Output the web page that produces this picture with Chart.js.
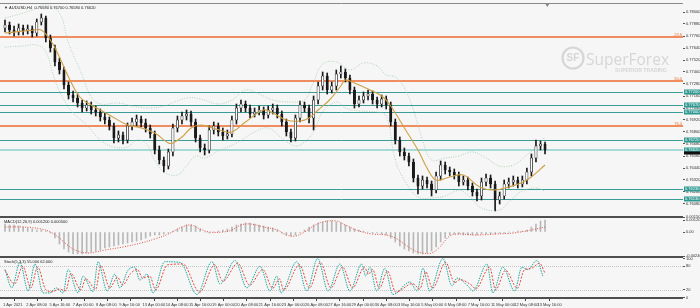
<!DOCTYPE html>
<html>
<head>
<meta charset="utf-8">
<script src="https://cdn.jsdelivr.net/npm/chart.js@4.4.1/dist/chart.umd.min.js"></script>
<style>
  html, body { margin: 0; padding: 0; background: #f6f6f6; }
  canvas { display: block; }
</style>
</head>
<body>
<canvas id="chart" width="700" height="308"></canvas>
<script>
// ---- AUDUSD H4 candles ----
const openP = [0.7784, 0.7787, 0.7782, 0.7780, 0.7784, 0.7781, 0.7783, 0.7779, 0.7790, 0.7794,
  0.7774, 0.7764, 0.7750, 0.7742, 0.7727, 0.7717, 0.7714, 0.7709, 0.7704, 0.7707,
  0.7702, 0.7700, 0.7695, 0.7692, 0.7686, 0.7674, 0.7677, 0.7672, 0.7686, 0.7690,
  0.7693, 0.7689, 0.7684, 0.7678, 0.7662, 0.7652, 0.7646, 0.7660, 0.7684, 0.7692,
  0.7696, 0.7698, 0.7690, 0.7674, 0.7664, 0.7662, 0.7682, 0.7686, 0.7680, 0.7676,
  0.7678, 0.7692, 0.7704, 0.7708, 0.7704, 0.7698, 0.7700, 0.7702, 0.7697, 0.7702,
  0.7704, 0.7698, 0.7690, 0.7680, 0.7674, 0.7694, 0.7707, 0.7704, 0.7694, 0.7712,
  0.7726, 0.7736, 0.7722, 0.7726, 0.7738, 0.7740, 0.7734, 0.7722, 0.7708, 0.7712,
  0.7716, 0.7718, 0.7712, 0.7708, 0.7713, 0.7707, 0.7690, 0.7672, 0.7660, 0.7656,
  0.7650, 0.7634, 0.7626, 0.7632, 0.7628, 0.7622, 0.7636, 0.7647, 0.7642, 0.7640,
  0.7637, 0.7630, 0.7632, 0.7626, 0.7620, 0.7616, 0.7630, 0.7634, 0.7628, 0.7612,
  0.7616, 0.7628, 0.7630, 0.7632, 0.7628, 0.7632, 0.7640, 0.7654, 0.7666, 0.7668];
const highP = [0.7792, 0.7790, 0.7786, 0.7788, 0.7787, 0.7787, 0.7786, 0.7793, 0.7798, 0.7796,
  0.7777, 0.7767, 0.7754, 0.7745, 0.7730, 0.7721, 0.7718, 0.7712, 0.7711, 0.7710,
  0.7706, 0.7703, 0.7699, 0.7695, 0.7689, 0.7681, 0.7680, 0.7689, 0.7694, 0.7697,
  0.7696, 0.7693, 0.7687, 0.7681, 0.7666, 0.7655, 0.7663, 0.7688, 0.7696, 0.7700,
  0.7702, 0.7701, 0.7693, 0.7677, 0.7668, 0.7686, 0.7690, 0.7689, 0.7684, 0.7682,
  0.7696, 0.7708, 0.7712, 0.7711, 0.7707, 0.7704, 0.7706, 0.7705, 0.7706, 0.7708,
  0.7707, 0.7701, 0.7693, 0.7683, 0.7697, 0.7711, 0.7710, 0.7707, 0.7716, 0.7730,
  0.7740, 0.7739, 0.7730, 0.7742, 0.7746, 0.7743, 0.7737, 0.7725, 0.7716, 0.7720,
  0.7722, 0.7721, 0.7715, 0.7717, 0.7716, 0.7710, 0.7693, 0.7675, 0.7664, 0.7659,
  0.7653, 0.7637, 0.7636, 0.7635, 0.7631, 0.7640, 0.7651, 0.7650, 0.7645, 0.7643,
  0.7640, 0.7636, 0.7635, 0.7629, 0.7623, 0.7634, 0.7638, 0.7637, 0.7631, 0.7620,
  0.7632, 0.7634, 0.7636, 0.7635, 0.7636, 0.7644, 0.7658, 0.7672, 0.7671, 0.7670];
const lowP = [0.7780, 0.7778, 0.7776, 0.7777, 0.7777, 0.7778, 0.7775, 0.7776, 0.7787, 0.7770,
  0.7760, 0.7746, 0.7738, 0.7723, 0.7713, 0.7710, 0.7705, 0.7700, 0.7701, 0.7698,
  0.7696, 0.7691, 0.7688, 0.7682, 0.7669, 0.7670, 0.7668, 0.7669, 0.7682, 0.7686,
  0.7685, 0.7680, 0.7674, 0.7658, 0.7648, 0.7640, 0.7643, 0.7656, 0.7680, 0.7688,
  0.7692, 0.7686, 0.7670, 0.7660, 0.7657, 0.7659, 0.7678, 0.7676, 0.7672, 0.7673,
  0.7675, 0.7688, 0.7700, 0.7700, 0.7694, 0.7695, 0.7697, 0.7693, 0.7694, 0.7698,
  0.7694, 0.7686, 0.7676, 0.7670, 0.7671, 0.7690, 0.7700, 0.7689, 0.7682, 0.7708,
  0.7722, 0.7718, 0.7719, 0.7722, 0.7734, 0.7730, 0.7718, 0.7704, 0.7705, 0.7709,
  0.7712, 0.7708, 0.7704, 0.7705, 0.7703, 0.7686, 0.7668, 0.7656, 0.7652, 0.7646,
  0.7630, 0.7618, 0.7623, 0.7624, 0.7616, 0.7619, 0.7632, 0.7638, 0.7636, 0.7633,
  0.7626, 0.7627, 0.7622, 0.7616, 0.7611, 0.7612, 0.7626, 0.7624, 0.7601, 0.7608,
  0.7613, 0.7624, 0.7626, 0.7624, 0.7625, 0.7628, 0.7636, 0.7650, 0.7662, 0.7658];
const closeP = [0.7787, 0.7782, 0.7780, 0.7784, 0.7781, 0.7783, 0.7779, 0.7790, 0.7794, 0.7774,
  0.7764, 0.7750, 0.7742, 0.7727, 0.7717, 0.7714, 0.7709, 0.7704, 0.7707, 0.7702,
  0.7700, 0.7695, 0.7692, 0.7686, 0.7674, 0.7677, 0.7672, 0.7686, 0.7690, 0.7693,
  0.7689, 0.7684, 0.7678, 0.7662, 0.7652, 0.7646, 0.7660, 0.7684, 0.7692, 0.7696,
  0.7698, 0.7690, 0.7674, 0.7664, 0.7662, 0.7682, 0.7686, 0.7680, 0.7676, 0.7678,
  0.7692, 0.7704, 0.7708, 0.7704, 0.7698, 0.7700, 0.7702, 0.7697, 0.7702, 0.7704,
  0.7698, 0.7690, 0.7680, 0.7674, 0.7694, 0.7707, 0.7704, 0.7694, 0.7712, 0.7726,
  0.7736, 0.7722, 0.7726, 0.7738, 0.7740, 0.7734, 0.7722, 0.7708, 0.7712, 0.7716,
  0.7718, 0.7712, 0.7708, 0.7713, 0.7707, 0.7690, 0.7672, 0.7660, 0.7656, 0.7650,
  0.7634, 0.7626, 0.7632, 0.7628, 0.7622, 0.7636, 0.7647, 0.7642, 0.7640, 0.7637,
  0.7630, 0.7632, 0.7626, 0.7620, 0.7616, 0.7630, 0.7634, 0.7628, 0.7612, 0.7616,
  0.7628, 0.7630, 0.7632, 0.7628, 0.7632, 0.7640, 0.7654, 0.7666, 0.7668, 0.7662];

// moving average (bar index, price)
const maX = [0, 6.6, 8, 10, 12, 14, 16.5, 19, 21, 23, 27, 30, 33, 36, 37, 39, 41, 43, 45, 48,
  50, 53, 57, 59, 62, 65, 67, 69, 71.5, 74, 75, 77, 80, 83, 85, 88, 91, 93, 95, 98,
  101, 104.6, 107.5, 111, 115, 119];
const maV = [0.7779, 0.7782, 0.7782, 0.7772, 0.7755, 0.7735, 0.7715, 0.7707, 0.7702, 0.7697,
  0.7687, 0.7684, 0.7679, 0.7669, 0.7669, 0.7675, 0.7684, 0.7687, 0.7685, 0.7681,
  0.7680, 0.7690, 0.7702, 0.7699, 0.7692, 0.7691, 0.7694, 0.7702, 0.7712, 0.7726,
  0.7732, 0.7729, 0.7723, 0.7716, 0.7706, 0.7684, 0.7662, 0.7644, 0.7632, 0.7635,
  0.7637, 0.7625, 0.7622, 0.7625, 0.7632, 0.7647];

// Bollinger bands
const ubX = [0, 3.3, 6, 9, 12, 14, 17, 19, 21, 25, 28, 32, 35, 40, 43, 47, 50, 53, 56, 59,
  63, 66, 68, 70, 73, 76, 79, 82, 84, 86, 88, 90, 92, 94, 97, 100, 103, 106, 109, 112,
  115, 117, 119];
const ubV = [0.7794, 0.7798, 0.7802, 0.7807, 0.7799, 0.7769, 0.7737, 0.7715, 0.7708, 0.7709,
  0.7706, 0.7704, 0.7706, 0.7714, 0.7713, 0.7708, 0.7712, 0.7722, 0.7718, 0.7712,
  0.7710, 0.7712, 0.7730, 0.7748, 0.7750, 0.7742, 0.7749, 0.7746, 0.7737, 0.7735,
  0.7724, 0.7702, 0.7672, 0.7652, 0.7654, 0.7656, 0.7660, 0.7654, 0.7646, 0.7647,
  0.7657, 0.7665, 0.7675];
const lbX = [0, 4, 7, 9, 11, 13, 15, 18, 21, 24, 27, 29, 31, 33, 35, 38, 40, 42, 44, 47,
  51, 55, 58, 61, 64, 66, 68, 70, 73, 75, 78, 82, 84, 86, 88, 91, 94, 97, 100, 102,
  105, 109, 111, 114, 117, 119];
const lbV = [0.7765, 0.7766, 0.7767, 0.7760, 0.7732, 0.7712, 0.7699, 0.7687, 0.7672, 0.7665,
  0.7665, 0.7672, 0.7669, 0.7652, 0.7640, 0.7637, 0.7646, 0.7656, 0.7654, 0.7661,
  0.7669, 0.7680, 0.7684, 0.7674, 0.7666, 0.7670, 0.7680, 0.7700, 0.7710, 0.7704,
  0.7701, 0.7700, 0.7696, 0.7652, 0.7632, 0.7615, 0.7614, 0.7616, 0.7622, 0.7617,
  0.7604, 0.7602, 0.7610, 0.7621, 0.7624, 0.7621];

// horizontal levels
const fibLevels = [0.7775, 0.7731, 0.7686];
const fibNames = ['23.6', '50.0', '76.4'];
const supportLevels = [0.7720, 0.7707, 0.7700, 0.7672, 0.7623, 0.7613];
const bidPrice = 0.7662;

// MACD(12,26,9)
const macdHist = [0.0008, 0.0007, 0.0007, 0.0006, 0.0005, 0.0004, 0.0003, 0.0002, 0.0002, 0.0001,
  -0.0001, -0.0006, -0.0012, -0.0017, -0.0020, -0.0022, -0.0022, -0.0022, -0.0021, -0.0020,
  -0.0019, -0.0018, -0.0016, -0.0015, -0.0014, -0.0013, -0.0012, -0.0011, -0.0010, -0.0009,
  -0.0008, -0.0006, -0.0004, -0.0003, -0.0003, -0.0002, -0.0001, 0.0001, 0.0003, 0.0005,
  0.0007, 0.0007, 0.0006, 0.0003, 0.0000, -0.0001, 0.0000, 0.0001, 0.0002, 0.0003,
  0.0005, 0.0007, 0.0008, 0.0009, 0.0009, 0.0008, 0.0007, 0.0006, 0.0005, 0.0004,
  0.0002, -0.0001, -0.0003, -0.0004, -0.0003, -0.0001, 0.0002, 0.0005, 0.0007, 0.0009,
  0.0010, 0.0011, 0.0011, 0.0010, 0.0009, 0.0007, 0.0005, 0.0003, 0.0002, 0.0001,
  0.0000, -0.0001, -0.0001, -0.0002, -0.0003, -0.0006, -0.0010, -0.0014, -0.0017, -0.0019,
  -0.0021, -0.0022, -0.0022, -0.0021, -0.0019, -0.0015, -0.0010, -0.0006, -0.0003, -0.0002,
  -0.0002, -0.0003, -0.0003, -0.0003, -0.0003, -0.0002, -0.0002, -0.0002, -0.0002, -0.0001,
  -0.0001, 0.0000, 0.0000, 0.0001, 0.0001, 0.0002, 0.0005, 0.0008, 0.0011, 0.0012];
const sigX = [0, 4, 8, 10, 12, 14, 16, 18, 20, 22, 26, 30, 33, 36, 39, 41, 43, 45, 48, 50,
  52, 54, 57, 60, 62, 64, 66, 68, 70, 73, 75, 78, 81, 84, 86, 88, 90, 92, 94, 96,
  98, 100, 104, 108, 112, 116, 119];
const sigV = [0.0005, 0.0005, 0.0003, 0.0000, -0.0006, -0.0014, -0.0019, -0.0021, -0.0020, -0.0018,
  -0.0015, -0.0011, -0.0007, -0.0002, 0.0005, 0.0007, 0.0003, 0.0000, 0.0000, 0.0002,
  0.0007, 0.0008, 0.0005, 0.0002, -0.0003, -0.0004, 0.0000, 0.0006, 0.0010, 0.0011,
  0.0007, 0.0001, -0.0002, -0.0003, -0.0006, -0.0012, -0.0018, -0.0021, -0.0021, -0.0014,
  -0.0004, -0.0002, -0.0003, -0.0002, -0.0001, 0.0002, 0.0005];

// Stochastic(5,3,3)
const stochMainX = [0, 1.5, 3.3, 5.1, 6.6, 8.4, 9.9, 11.2, 12.8, 13.9, 16.1, 17.2, 19.4, 20.5, 22.5,
  24.2, 25.3, 27.1, 28.6, 29.7, 31.3, 32.6, 35.2, 38.6, 42.3, 45.6, 47.4, 50.7, 53.3, 56.2,
  58.4, 59.9, 60.8, 64.3, 66.5, 68.9, 71.2, 73.8, 76.0, 78.6, 79.5, 80.4, 81.9, 83.7, 85.5,
  89.2, 90.8, 92.1, 93.6, 96.5, 98.5, 99.6, 102.4, 103.1, 106.2, 107.5, 109.7, 112.3, 113.9, 115.2,
  117.2, 118.5];
const stochMainV = [72, 25, 90, 17, 86, 12, 12, 25, 12, 72, 12, 55, 15, 92, 17,
  60, 25, 70, 78, 45, 60, 12, 92, 90, 8, 92, 35, 95, 25, 80,
  17, 55, 12, 92, 17, 100, 17, 86, 17, 86, 55, 78, 17, 75, 8,
  40, 17, 75, 17, 100, 30, 50, 25, 17, 86, 12, 78, 17, 78, 72,
  95, 55];
const stochSigX = [0, 2.1, 3.9, 5.7, 7.2, 9.0, 10.5, 11.8, 13.4, 14.5, 16.7, 17.8, 20.0, 21.1, 23.1,
  24.8, 25.9, 27.7, 29.2, 30.3, 31.9, 33.2, 35.8, 39.2, 42.9, 46.2, 48.0, 51.3, 53.9, 56.8,
  59.0, 60.5, 61.4, 64.9, 67.1, 69.5, 71.8, 74.4, 76.6, 79.2, 80.1, 81.0, 82.5, 84.3, 86.1,
  89.8, 91.4, 92.7, 94.2, 97.1, 99.1, 100.2, 103.0, 103.7, 106.8, 108.1, 110.3, 112.9, 114.5, 115.8,
  117.8, 119.0];
const stochSigV = [70, 35, 80, 25, 78, 20, 15, 22, 18, 62, 20, 48, 22, 82, 25,
  52, 32, 62, 72, 50, 55, 20, 84, 86, 14, 84, 42, 88, 32, 72,
  24, 48, 20, 84, 25, 90, 25, 78, 25, 78, 60, 72, 24, 68, 14,
  36, 22, 66, 24, 90, 38, 46, 30, 22, 78, 20, 70, 24, 72, 74,
  88, 62];
const stochLevels = [80, 20];

// axis labels
const priceTicks = [0.7800, 0.7788, 0.7776, 0.7764, 0.7752, 0.7740, 0.7728, 0.7716, 0.7704,
  0.7692, 0.7680, 0.7668, 0.7656, 0.7644, 0.7632, 0.7620, 0.7608];
const macdTicks = [0.0015, 0.0012, 0, -0.0024];
const stochTicks = [100, 80, 20, 0];
const timeLabels = ['1 Apr 2021', '2 Apr 08:00', '5 Apr 16:00', '7 Apr 00:00', '8 Apr 08:00',
  '9 Apr 16:00', '13 Apr 00:00', '14 Apr 08:00', '15 Apr 16:00', '19 Apr 00:00', '20 Apr 08:00',
  '21 Apr 16:00', '23 Apr 00:00', '26 Apr 08:00', '27 Apr 16:00', '29 Apr 00:00', '30 Apr 08:00',
  '3 May 16:00', '5 May 00:00', '6 May 08:00', '7 May 16:00', '11 May 00:00', '12 May 08:00',
  '13 May 16:00'];
const mainTitle = '\u25BC AUDUSD,H4  0.76680 0.76700 0.76580 0.76620';
const macdTitle = 'MACD(12,26,9) 0.001200 0.000500';
const stochTitle = 'Stoch(5,3,3) 55.000 62.000';

// layout helpers
const labelStart = -0.44;
const labelStep = 5.12;
const family = '"Liberation Sans", "DejaVu Sans", sans-serif';
const tiny = { size: 4, family: family };

Chart.defaults.font.family = family;

const barIdx = openP.map((_, i) => i);
const pts = (xs, ys) => xs.map((x, i) => ({ x: x, y: ys[i] }));

// Draw panel frames, level lines, labels and watermark
const paneDecor = {
    id: 'paneDecor',
    beforeDraw(chart) {
        const c = chart.ctx;
        c.save();
        c.fillStyle = '#f6f6f6';
        c.fillRect(0, 0, chart.width, chart.height);

        // watermark
        c.strokeStyle = '#d6d6d6';
        c.fillStyle = '#d6d6d6';
        c.lineWidth = 2.2;
        c.beginPath();
        c.arc(573, 58, 10.5, 0, Math.PI * 2);
        c.stroke();
        c.font = 'bold 10px ' + family;
        c.textAlign = 'center';
        c.textBaseline = 'middle';
        c.fillText('SF', 573, 58.5);
        c.textAlign = 'left';
        c.textBaseline = 'alphabetic';
        c.font = '16px "Open Sans"';
        let w = c.measureText('SuperForex').width;
        c.font = (16 * 83 / w).toFixed(1) + 'px "Open Sans"';
        c.fillText('SuperForex', 586, 65);
        c.font = 'bold 5px ' + family;
        w = c.measureText('SUPERIOR TRADING').width;
        c.font = 'bold ' + (5 * 52 / w).toFixed(2) + 'px ' + family;
        c.fillText('SUPERIOR TRADING', 615, 72);
        c.restore();
    },
    beforeDatasetsDraw(chart) {
        const c = chart.ctx;
        const area = chart.chartArea;
        const yMain = chart.scales.y;
        const yStoch = chart.scales.yStoch;
        c.save();
        const hline = (y, color, width, dash) => {
            c.strokeStyle = color;
            c.lineWidth = width;
            c.setLineDash(dash || []);
            c.beginPath();
            c.moveTo(area.left, y);
            c.lineTo(area.right, y);
            c.stroke();
        };
        supportLevels.forEach(v => hline(Math.round(yMain.getPixelForValue(v)) + 0.5, '#3a9c96', 1));
        hline(yMain.getPixelForValue(bidPrice), '#a6dad6', 2);
        fibLevels.forEach(v => hline(Math.round(yMain.getPixelForValue(v)), '#ec6a2e', 1.5));
        stochLevels.forEach(v => hline(Math.round(yStoch.getPixelForValue(v)) + 0.5, '#c4c4c4', 1, [1, 1]));
        c.restore();
    },
    afterDraw(chart) {
        const c = chart.ctx;
        const area = chart.chartArea;
        const yMain = chart.scales.y;
        const yMacd = chart.scales.yMacd;
        const yStoch = chart.scales.yStoch;
        const xs = chart.scales.x;
        c.save();
        const sep = (y, color, width) => {
            c.strokeStyle = color;
            c.lineWidth = width;
            c.beginPath();
            c.moveTo(0, y);
            c.lineTo(area.right, y);
            c.stroke();
        };
        sep(yMain.top + 0.5, '#8a8a8a', 1);
        sep(yMacd.top, '#4e4e4e', 2);
        sep(yStoch.top, '#4e4e4e', 2);
        sep(yStoch.bottom, '#4e4e4e', 2);

        // chart shift marker
        const sx = xs.getPixelForValue(barIdx.length - 0.5);
        c.fillStyle = '#8a8a8a';
        c.beginPath();
        c.moveTo(sx - 2, yMain.top + 1);
        c.lineTo(sx + 2, yMain.top + 1);
        c.lineTo(sx, yMain.top + 4);
        c.fill();

        // pane titles
        c.fillStyle = '#222';
        c.font = '4px ' + family;
        c.textBaseline = 'middle';
        c.textAlign = 'left';
        c.fillText(mainTitle, 4, yMain.top + 4.5);
        c.fillText(macdTitle, 4, yMacd.top + 4.5);
        c.fillText(stochTitle, 4, yStoch.top + 5);

        // fibo level captions
        c.fillStyle = '#ec6a2e';
        c.textAlign = 'right';
        c.textBaseline = 'bottom';
        fibLevels.forEach((v, i) => c.fillText(fibNames[i], area.right - 1, yMain.getPixelForValue(v) - 0.5));

        // price boxes on the right axis
        c.textAlign = 'left';
        c.textBaseline = 'middle';
        const box = (v, bg) => {
            const y = yMain.getPixelForValue(v);
            c.fillStyle = bg;
            c.fillRect(area.right + 1, y - 2.5, 16, 5);
            c.fillStyle = '#ffffff';
            c.fillText(v.toFixed(5), area.right + 2, y + 0.2);
        };
        supportLevels.forEach(v => box(v, '#2f9890'));
        box(bidPrice, '#2f9890');
        const yb = yMain.getPixelForValue(bidPrice) + 2.5;
        c.fillStyle = '#111';
        c.fillRect(area.right + 1, yb - 1, 16, 3);
        c.restore();
    }
};

const yAxisBase = (weight, min, max, tickList, fmt) => ({
    type: 'linear',
    position: 'right',
    stack: 'panes',
    stackWeight: weight,
    min: min,
    max: max,
    offset: false,
    afterBuildTicks: s => { s.ticks = tickList.map(v => ({ value: v })); },
    afterFit: s => { s.width = 17; s.paddingTop = 0; s.paddingBottom = 0; },
    ticks: { callback: fmt, autoSkip: false, font: tiny, color: '#333', padding: 1 },
    grid: { drawOnChartArea: false, tickLength: 2, color: '#555' },
    border: { display: false }
});

new Chart(document.getElementById('chart'), {
    type: 'bar',
    data: {
        datasets: [
            {
                type: 'line', label: 'MA', yAxisID: 'y', data: pts(maX, maV),
                borderColor: '#cfa045', borderWidth: 1.1, pointRadius: 0, tension: 0.4, order: 0
            },
            {
                type: 'line', label: 'BB upper', yAxisID: 'y', data: pts(ubX, ubV),
                borderColor: '#9ccaa6', borderWidth: 0.8, borderDash: [1, 1.5], pointRadius: 0, tension: 0.4, order: 1
            },
            {
                type: 'line', label: 'BB lower', yAxisID: 'y', data: pts(lbX, lbV),
                borderColor: '#9ccaa6', borderWidth: 0.8, borderDash: [1, 1.5], pointRadius: 0, tension: 0.4, order: 1
            },
            {
                type: 'bar', label: 'body', yAxisID: 'y',
                data: barIdx.map(i => ({ x: i, y: [openP[i], closeP[i]] })),
                backgroundColor: c => closeP[c.dataIndex] >= openP[c.dataIndex] ? '#ffffff' : '#1a1a1a',
                borderColor: '#1a1a1a', borderWidth: 0.7, borderSkipped: false,
                barThickness: 2.4, minBarLength: 1, grouped: false, order: 2
            },
            {
                type: 'bar', label: 'wick', yAxisID: 'y',
                data: barIdx.map(i => ({ x: i, y: [lowP[i], highP[i]] })),
                backgroundColor: '#1a1a1a', barThickness: 1, grouped: false, order: 3
            },
            {
                type: 'line', label: 'MACD signal', yAxisID: 'yMacd', data: pts(sigX, sigV),
                borderColor: '#e0504a', borderWidth: 1, borderDash: [1, 1.5], pointRadius: 0, tension: 0.4, order: 4
            },
            {
                type: 'bar', label: 'MACD', yAxisID: 'yMacd', data: pts(barIdx, macdHist),
                backgroundColor: '#b8b8b8', barThickness: 1, grouped: false, order: 5
            },
            {
                type: 'line', label: 'Stoch signal', yAxisID: 'yStoch', data: pts(stochSigX, stochSigV),
                borderColor: '#e8463c', borderWidth: 1, borderDash: [2, 1.5], pointRadius: 0,
                cubicInterpolationMode: 'monotone', order: 0
            },
            {
                type: 'line', label: 'Stoch main', yAxisID: 'yStoch', data: pts(stochMainX, stochMainV),
                borderColor: '#20a89f', borderWidth: 1, borderDash: [1.5, 1], pointRadius: 0,
                cubicInterpolationMode: 'monotone', order: 1
            }
        ]
    },
    options: {
        responsive: false,
        animation: false,
        devicePixelRatio: 1,
        layout: { padding: { top: 3, left: 0, right: 0, bottom: 0 } },
        plugins: { legend: { display: false }, tooltip: { enabled: false } },
        scales: {
            x: {
                type: 'linear',
                position: 'bottom',
                min: -1.1,
                max: 149.4,
                offset: false,
                afterBuildTicks: s => { s.ticks = timeLabels.map((_, k) => ({ value: labelStart + k * labelStep })); },
                afterFit: s => { s.height = 10; s.paddingLeft = 0; s.paddingRight = 0; },
                ticks: {
                    callback: (v, k) => timeLabels[k],
                    autoSkip: false, maxRotation: 0, align: 'start',
                    font: tiny, color: '#333', padding: 1
                },
                grid: { drawOnChartArea: false, tickLength: 3, color: '#444' },
                border: { display: false }
            },
            y: yAxisBase(214, 0.7595, 0.7809, priceTicks, v => v.toFixed(5)),
            yMacd: yAxisBase(40, -0.0025, 0.0015, macdTicks, v => (v === 0 ? '0.00' : v.toFixed(6))),
            yStoch: yAxisBase(41, -1, 104, stochTicks, v => String(v))
        }
    },
    plugins: [paneDecor]
});
</script>
</body>
</html>
